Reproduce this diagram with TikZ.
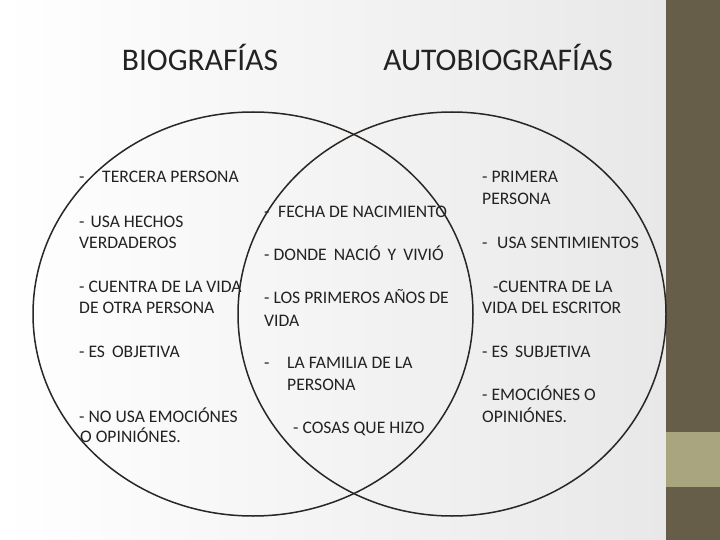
\documentclass[tikz,border=0pt]{standalone}
\usepackage{fontspec}
\setmainfont{Carlito}
\definecolor{bar}{HTML}{675E4A}
\definecolor{band}{HTML}{A9A57F}
\definecolor{ink}{HTML}{222222}
\definecolor{ring}{HTML}{2A2623}
\begin{document}
\begin{tikzpicture}[x=1pt,y=-1pt,
  txt/.style={anchor=base west,inner sep=0pt,text=ink,font=\fontsize{17.6}{20}\selectfont},
  ttl/.style={anchor=base,inner sep=0pt,text=ink,font=\fontsize{31.5}{36}\selectfont},
  ringline/.style={draw=ring,line width=1.5pt}]
\useasboundingbox (0,0) rectangle (720,540);
\shade[left color=white,right color=black!9] (0,0) rectangle (666,540);
\fill[bar] (666,0) rectangle (720,540);
\fill[band] (666,432) rectangle (720,487);
% circles
\draw[ringline] (253,314) ellipse [x radius=220,y radius=202];
\draw[ringline] (452,314) ellipse [x radius=214,y radius=202];
% titles
\node[ttl] (t1) at (200,71) {BIOGRAFÍAS};
\node[ttl] (t2) at (498,71) {AUTOBIOGRAFÍAS};
% left
\node[txt] (l1a) at (79,183) {-};
\node[txt] (l1) at (102,183) {TERCERA PERSONA};
\node[txt] (l2) at (79,227) {-\hspace{6pt}USA HECHOS};
\node[txt] (l3) at (79,248) {VERDADEROS};
\node[txt] (l4) at (79,292) {- CUENTRA DE LA VIDA};
\node[txt] (l5) at (79,313) {DE OTRA PERSONA};
\node[txt] (l6) at (79,357) {- ES\hspace{7pt}OBJETIVA};
\node[txt] (l7) at (79,422) {- NO USA EMOCIÓNES};
\node[txt] (l8) at (80,442) {O OPINIÓNES.};
% middle
\node[txt] (m1a) at (264,218) {-};
\node[txt] (m1) at (278,218) {FECHA DE NACIMIENTO};
\node[txt] (m2) at (264,260) {- DONDE\hspace{7pt}NACIÓ\hspace{7pt}Y\hspace{7pt}VIVIÓ};
\node[txt] (m3) at (264,303) {- LOS PRIMEROS AÑOS DE};
\node[txt] (m4) at (264,326) {VIDA};
\node[txt] (m5a) at (264,368) {-};
\node[txt] (m5) at (287,368) {LA FAMILIA DE LA};
\node[txt] (m6) at (287,390) {PERSONA};
\node[txt] (m7) at (293,433) {- COSAS QUE HIZO};
% right
\node[txt] (r1) at (482,183) {- PRIMERA};
\node[txt] (r2) at (482,205) {PERSONA};
\node[txt] (r3a) at (482,248) {-};
\node[txt] (r3) at (497,248) {USA SENTIMIENTOS};
\node[txt] (r4) at (493,292) {-CUENTRA DE LA};
\node[txt] (r5) at (482,313) {VIDA DEL ESCRITOR};
\node[txt] (r6) at (482,357) {- ES\hspace{7pt}SUBJETIVA};
\node[txt] (r7) at (482,400) {- EMOCIÓNES O};
\node[txt] (r8) at (482,422) {OPINIÓNES.};
\end{tikzpicture}
\end{document}
